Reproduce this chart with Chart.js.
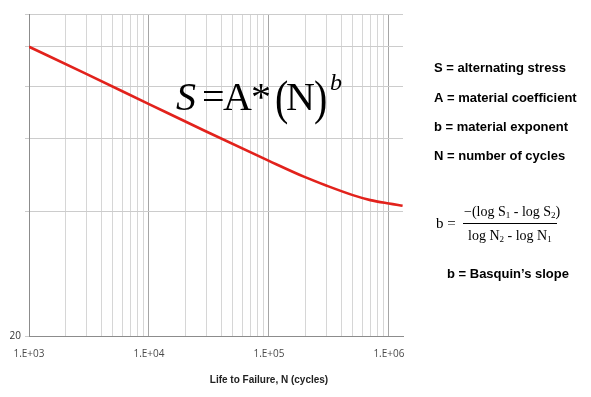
<!DOCTYPE html>
<html>
<head>
<meta charset="utf-8">
<script src="https://cdn.jsdelivr.net/npm/chart.js@4"></script>
<style>
  body { margin: 0; background: #fff; }
  #wrap { width: 591px; height: 397px; }
</style>
</head>
<body>
<div id="wrap"><canvas id="snChart" width="591" height="397"></canvas></div>
<script>
// S-N curve (cycles vs. alternating stress)
const cycles = [1e3, 3e3, 1e4, 3e4, 1e5, 2e5, 3e5, 5e5, 7e5, 1e6, 1.3e6];
const stress = [100, 86, 72.7, 62.4, 53, 48.4, 46.2, 43.8, 42.6, 41.8, 41.3];

const xMin = 1e3, xMax = 1.31e6;
const yMin = 20, yMax = 120;
const yGridValues = [20, 40, 60, 80, 100, 120];
const yLabelValues = [20];

const legendLines = [
  'S = alternating stress',
  'A = material coefficient',
  'b = material exponent',
  'N = number of cycles'
];
const xTitle = 'Life to Failure, N (cycles)';

function logTicks(min, max) {
  const out = [];
  for (let e = Math.floor(Math.log10(min)); e <= Math.ceil(Math.log10(max)); e++) {
    for (let m = 1; m <= 9; m++) {
      const v = m * Math.pow(10, e);
      if (v >= min && v <= max) out.push({ value: v });
    }
  }
  return out;
}

function isDecade(v) {
  const l = Math.log10(v);
  return Math.abs(l - Math.round(l)) < 1e-9;
}

// text with subscripts: segments = [[text, isSub], ...]
function drawSegments(ctx, segs, x, y, size) {
  let cx = x;
  segs.forEach(([t, sub]) => {
    ctx.font = (sub ? Math.round(size * 0.62) : size) + 'px "Liberation Serif"';
    ctx.fillText(t, cx, sub ? y + size * 0.28 : y);
    cx += ctx.measureText(t).width;
  });
}

// tall thin parenthesis: normal font stretched vertically
function tallChar(ctx, ch, x, y, size, stretch) {
  ctx.save();
  ctx.translate(x, y);
  ctx.scale(1, stretch);
  ctx.font = size + 'px "Liberation Serif"';
  ctx.fillText(ch, 0, 0);
  ctx.restore();
}

const textPlugin = {
  id: 'textPlugin',
  afterDraw(chart) {
    const ctx = chart.ctx;
    ctx.save();
    ctx.fillStyle = '#000';
    ctx.textAlign = 'left';

    // big formula S=A*(N)^b
    ctx.textBaseline = 'alphabetic';
    ctx.font = 'italic 40px "Liberation Serif"';
    ctx.fillText('S', 176, 110);
    ctx.font = '40px "Liberation Serif"';
    ctx.fillText('=', 202, 110);
    ctx.fillText('A', 223, 110);
    ctx.fillText('*', 251, 110);
    tallChar(ctx, '(', 275, 114, 40, 1.22);
    ctx.font = '40px "Liberation Serif"';
    ctx.fillText('N', 286, 110);
    tallChar(ctx, ')', 314, 114, 40, 1.22);
    ctx.font = 'italic 24px "Liberation Serif"';
    ctx.fillText('b', 330, 90);

    // definitions
    ctx.textBaseline = 'middle';
    ctx.font = 'bold 13px "Liberation Sans"';
    [68, 98, 127, 156].forEach((y, i) => ctx.fillText(legendLines[i], 434, y));
    ctx.fillText('b = Basquin\u2019s slope', 447, 274);

    // Basquin fraction
    ctx.font = '15px "Liberation Serif"';
    ctx.fillText('b =', 436, 224);
    drawSegments(ctx, [['\u2212(log S', 0], ['1', 1], [' - log S', 0], ['2', 1], [')', 0]], 464, 212, 14);
    drawSegments(ctx, [['log N', 0], ['2', 1], [' - log N', 0], ['1', 1]], 468, 236, 14);
    ctx.strokeStyle = '#000';
    ctx.lineWidth = 1;
    ctx.beginPath();
    ctx.moveTo(463, 223.5);
    ctx.lineTo(557, 223.5);
    ctx.stroke();

    // x axis title
    ctx.textAlign = 'center';
    ctx.fillStyle = '#222';
    ctx.font = 'bold 10px "Liberation Sans"';
    ctx.fillText(xTitle, 269, 380);
    ctx.restore();
  }
};

const ctx = document.getElementById('snChart').getContext('2d');
new Chart(ctx, {
  type: 'line',
  data: {
    datasets: [{
      data: cycles.map((c, i) => ({ x: c, y: stress[i] })),
      borderColor: '#e2221c',
      borderWidth: 2.6,
      pointRadius: 0,
      fill: false,
      cubicInterpolationMode: 'monotone'
    }]
  },
  options: {
    responsive: false,
    animation: false,
    layout: { padding: { top: 14, right: 188, left: 0, bottom: 0 } },
    plugins: { legend: { display: false }, tooltip: { enabled: false } },
    scales: {
      x: {
        type: 'logarithmic',
        min: xMin,
        max: xMax,
        afterBuildTicks(scale) { scale.ticks = logTicks(xMin, xMax); },
        afterFit(scale) { scale.height = 61; },
        border: { color: '#8c8c8c', width: 1 },
        grid: {
          drawTicks: false,
          color: c => isDecade(c.tick.value) ? '#a6a6a6' : '#d6d6d6'
        },
        ticks: {
          autoSkip: false,
          maxRotation: 0,
          padding: 12,
          color: '#4a4a4a',
          font: { family: 'Open Sans', size: 10 },
          callback: v => isDecade(v) ? '1.E+' + String(Math.round(Math.log10(v))).padStart(2, '0') : ''
        }
      },
      y: {
        type: 'logarithmic',
        min: yMin,
        max: yMax,
        afterBuildTicks(scale) { scale.ticks = yGridValues.map(v => ({ value: v })); },
        afterFit(scale) { scale.width = 29; },
        border: { color: '#8c8c8c', width: 1 },
        grid: { color: '#cccccc', tickLength: 4 },
        ticks: {
          padding: 4,
          color: '#333',
          font: { family: 'Open Sans', size: 10 },
          callback: v => yLabelValues.includes(v) ? String(v) : ''
        }
      }
    }
  },
  plugins: [textPlugin]
});
</script>
</body>
</html>
